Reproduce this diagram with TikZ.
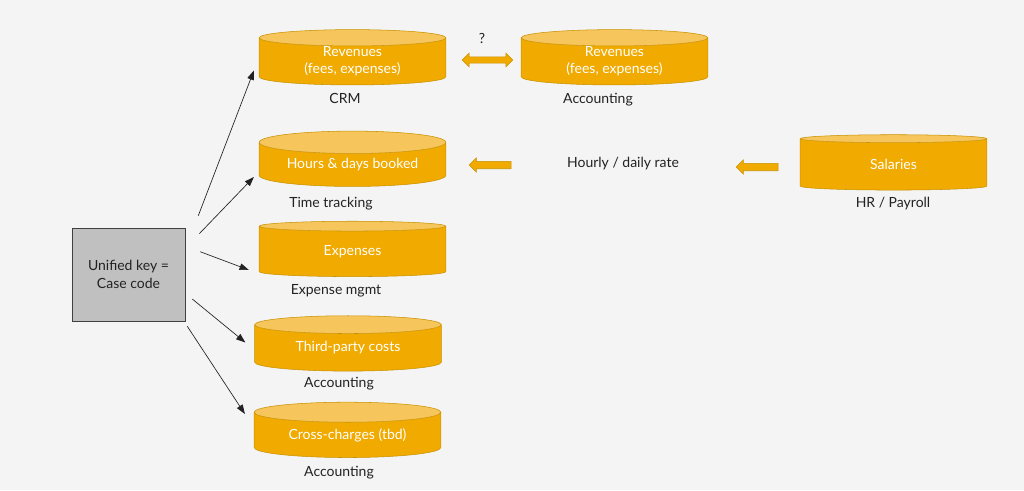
\documentclass[tikz,border=0pt]{standalone}
\usepackage{fontspec}
\setmainfont{Lato}
\usetikzlibrary{shapes.geometric,shapes.arrows,arrows.meta,calc}

\definecolor{gold}{HTML}{F0AA00}
\definecolor{goldtop}{HTML}{F6C55C}
\definecolor{goldline}{HTML}{C99200}
\definecolor{keygray}{HTML}{C0C0C0}
\definecolor{keyline}{HTML}{404040}
\definecolor{bggray}{HTML}{F4F4F4}
\definecolor{ink}{HTML}{222222}

\tikzset{
  store/.style={cylinder, shape border rotate=90, aspect=0.17, draw=goldline,
    cylinder uses custom fill, cylinder body fill=gold, cylinder end fill=goldtop,
    minimum width=140pt, minimum height=41.5pt, inner sep=0pt, text=white,
    align=center, font=\fontsize{10.5}{13}\selectfont},
  caption/.style={text=ink, font=\fontsize{10.5}{13}\selectfont, anchor=base},
  link/.style={-{Triangle[length=7pt,width=5pt]}, ink, line width=0.5pt},
  flow/.style={single arrow, shape border rotate=180, draw=goldline, fill=gold,
    inner xsep=0pt, inner ysep=2.6pt, single arrow head extend=2.6pt,
    minimum height=31.5pt},
  twoway/.style={double arrow, draw=goldline, fill=gold,
    inner xsep=0pt, inner ysep=2.2pt, double arrow head extend=2.8pt,
    minimum height=38pt}
}

\begin{document}
\begin{tikzpicture}[x=0.75pt,y=-0.75pt]
\fill[bggray] (0,0) rectangle (1024,490);
\useasboundingbox (0,0) rectangle (1024,490);

% the key in the middle of everything
\node [draw=keyline, fill=keygray, minimum width=84.75pt, minimum height=69.75pt,
       align=center, caption, anchor=center] (key) at (128.5,274.5) {Unified key =\\Case code};

% data sources
\node [store] (crm) at (352.5,61.5) {Revenues\\(fees, expenses)};
\node [store] (acc) at (614.5,61.5) {Revenues\\(fees, expenses)};
\node [store] (hours) at (352.5,164.5) {Hours \& days booked};
\node [store] (exp) at (352.5,251.5) {Expenses};
\node [store] (third) at (348,348) {Third-party costs};
\node [store] (cross) at (347.5,435) {Cross-charges (tbd)};
\node [store] (sal) at (893.5,164.5) {Salaries};
%
\node [caption] (crmlbl) at (345,103) {CRM};
\node [caption] (acclbl) at (598,103) {Accounting};
\node [caption] (hourslbl) at (331,207) {Time tracking};
\node [caption] (explbl) at (336,294) {Expense mgmt};
\node [caption] (thirdlbl) at (339,387) {Accounting};
\node [caption] (crosslbl) at (339,476) {Accounting};
\node [caption] (sallbl) at (893,207) {HR / Payroll};

% block arrows
\node [twoway] (match) at (487.5,60) {};
\node [caption] (ask) at (482,43) {?};
\node [flow] (rate1) at (492,165) {};
\node [caption] (rate) at (623,167) {Hourly / daily rate};
\node [flow] (rate2) at (759,167) {};

% key to the sources
\draw [link] ($(key.north east)+(13,-12)$) -- ($(crm.west)+(-5,9)$);
\draw [link] ($(key.north east)+(14,6)$) -- ($(hours.west)+(-5,12.5)$);
\draw [link] ($(key.north east)+(15,24)$) -- ($(exp.west)+(-10,18.5)$);
\draw [link] ($(key.east)+(7,24.5)$) -- ($(third.west)+(-9,-5.5)$);
\draw [link] ($(key.south east)+(2,5)$) -- ($(cross.west)+(-9,-21)$);
\end{tikzpicture}
\end{document}
